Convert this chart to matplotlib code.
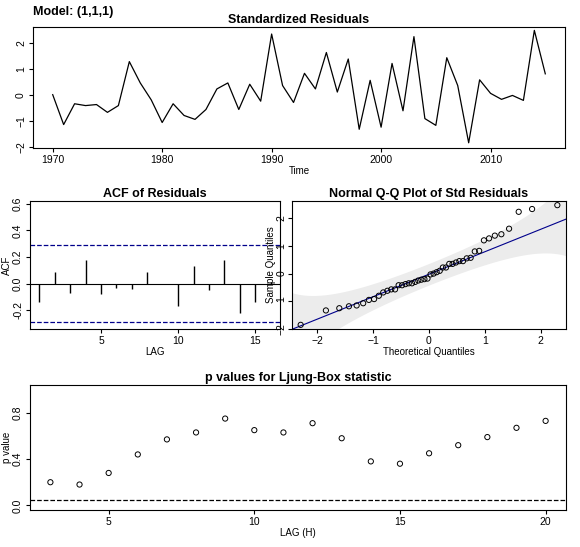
import matplotlib
matplotlib.use("Agg")
import matplotlib.pyplot as plt
import numpy as np
from statistics import NormalDist

plt.rcParams['font.family'] = ['Liberation Sans', 'DejaVu Sans']
plt.rcParams['font.size'] = 7.5

years = np.arange(1970, 2016)
resid = [0, -1.15, -0.35, -0.42, -0.38, -0.68, -0.42, 1.27, 0.45, -0.2,
         -1.07, -0.35, -0.8, -0.95, -0.57, 0.22, 0.45, -0.57, 0.4, -0.25,
         2.33, 0.35, -0.3, 0.82, 0.22, 1.62, 0.1, 1.37, -1.33, 0.55,
         -1.25, 1.2, -0.62, 2.23, -0.92, -1.18, 1.42, 0.35, -1.85, 0.57,
         0.05, -0.18, -0.03, -0.22, 2.47, 0.8]
acf_lags = np.arange(1, 17)
acf_vals = [-0.14, 0.09, -0.07, 0.18, -0.08, -0.03, -0.04, 0.09, 0.0, -0.17,
            0.13, -0.05, 0.18, -0.22, -0.14, 0.01]
acf_bound = 0.29
lb_lags = np.arange(3, 21)
lb_pvals = [0.2, 0.18, 0.28, 0.44, 0.57, 0.63, 0.75, 0.65, 0.63, 0.71,
            0.58, 0.38, 0.36, 0.45, 0.52, 0.59, 0.67, 0.73]

navy = '#00008B'
W, H = 580, 547
fig = plt.figure(figsize=(5.8, 5.47), dpi=100)

def box(x0, y0, x1, y1):
    return fig.add_axes([x0 / W, 1 - y1 / H, (x1 - x0) / W, (y1 - y0) / H])

def rstyle(ax):
    ax.tick_params(direction='out', length=3, pad=2)
    for lab in ax.get_yticklabels():
        lab.set_rotation(90)
        lab.set_va('center')

# Standardized residuals
ax1 = box(33, 27, 565, 148)
ax1.plot(years, resid, color='black', lw=0.9)
ax1.set_xlim(1968.2, 2016.8)
ax1.set_ylim(-2.05, 2.6)
ax1.set_yticks([-2, -1, 0, 1, 2])
ax1.set_xticks([1970, 1980, 1990, 2000, 2010])
ax1.set_xlabel('Time', fontsize=7, labelpad=1)
ax1.set_title('Standardized Residuals', fontsize=9, fontweight='bold', pad=3)
fig.text(33 / W, 1 - 12 / H, 'Model: (1,1,1)', fontsize=9, fontweight='bold', va='center')
rstyle(ax1)

# ACF
ax2 = box(30, 201, 280, 329)
ax2.vlines(acf_lags, 0, acf_vals, color='black', lw=1)
ax2.axhline(0, color='black', lw=0.8)
for b in (acf_bound, -acf_bound):
    ax2.axhline(b, color=navy, ls='--', lw=0.9)
ax2.set_xlim(0.4, 16.6)
ax2.set_ylim(-0.34, 0.62)
ax2.set_yticks([-0.2, 0.0, 0.2, 0.4, 0.6])
ax2.set_yticklabels(['-0.2', '0.0', '0.2', '0.4', '0.6'])
ax2.set_xticks([5, 10, 15])
ax2.set_xlabel('LAG', fontsize=7, labelpad=1)
ax2.set_ylabel('ACF', fontsize=7, labelpad=1)
ax2.set_title('ACF of Residuals', fontsize=9, fontweight='bold', pad=3)
rstyle(ax2)

# Normal Q-Q
ax3 = box(292, 201, 566, 329)
n = len(resid)
nd = NormalDist()
pp = (np.arange(1, n + 1) - 0.5) / n
z = np.array([nd.inv_cdf(p) for p in pp])
y = np.sort(resid)
q1, q3 = np.percentile(y, [25, 75])
z1, z3 = nd.inv_cdf(0.25), nd.inv_cdf(0.75)
slope = (q3 - q1) / (z3 - z1)
inter = q1 - slope * z1
zz = np.linspace(-2.6, 2.6, 200)
pz = np.array([nd.cdf(v) for v in zz])
dens = np.array([nd.pdf(v) for v in zz])
se = slope / dens * np.sqrt(pz * (1 - pz) / n)
fit = inter + slope * zz
ax3.fill_between(zz, fit - 2.6 * se, fit + 2.6 * se, color='#ececec', lw=0)
ax3.plot(zz, fit, color=navy, lw=0.8)
ax3.scatter(z, y, s=14, facecolors='none', edgecolors='black', lw=0.7, zorder=3)
ax3.set_xlim(-2.45, 2.45)
ax3.set_ylim(-2.0, 2.62)
ax3.set_xticks([-2, -1, 0, 1, 2])
ax3.set_yticks([-2, -1, 0, 1, 2])
ax3.set_xlabel('Theoretical Quantiles', fontsize=7, labelpad=1)
ax3.set_ylabel('Sample Quantiles', fontsize=7, labelpad=0)
ax3.set_title('Normal Q-Q Plot of Std Residuals', fontsize=9, fontweight='bold', pad=3)
rstyle(ax3)
ax3.tick_params(axis='y', pad=1)

# Ljung-Box
ax4 = box(30, 385, 566, 510)
ax4.scatter(lb_lags, lb_pvals, s=14, facecolors='none', edgecolors='black', lw=0.7)
ax4.axhline(0.05, color='black', ls='--', lw=0.9)
ax4.set_xlim(2.3, 20.7)
ax4.set_ylim(-0.04, 1.04)
ax4.set_yticks([0.0, 0.4, 0.8])
ax4.set_yticklabels(['0.0', '0.4', '0.8'])
ax4.set_xticks([5, 10, 15, 20])
ax4.set_xlabel('LAG (H)', fontsize=7, labelpad=1)
ax4.set_ylabel('p value', fontsize=7, labelpad=1)
ax4.set_title('p values for Ljung-Box statistic', fontsize=9, fontweight='bold', pad=3)
rstyle(ax4)

fig.savefig('out.png', dpi=100)
